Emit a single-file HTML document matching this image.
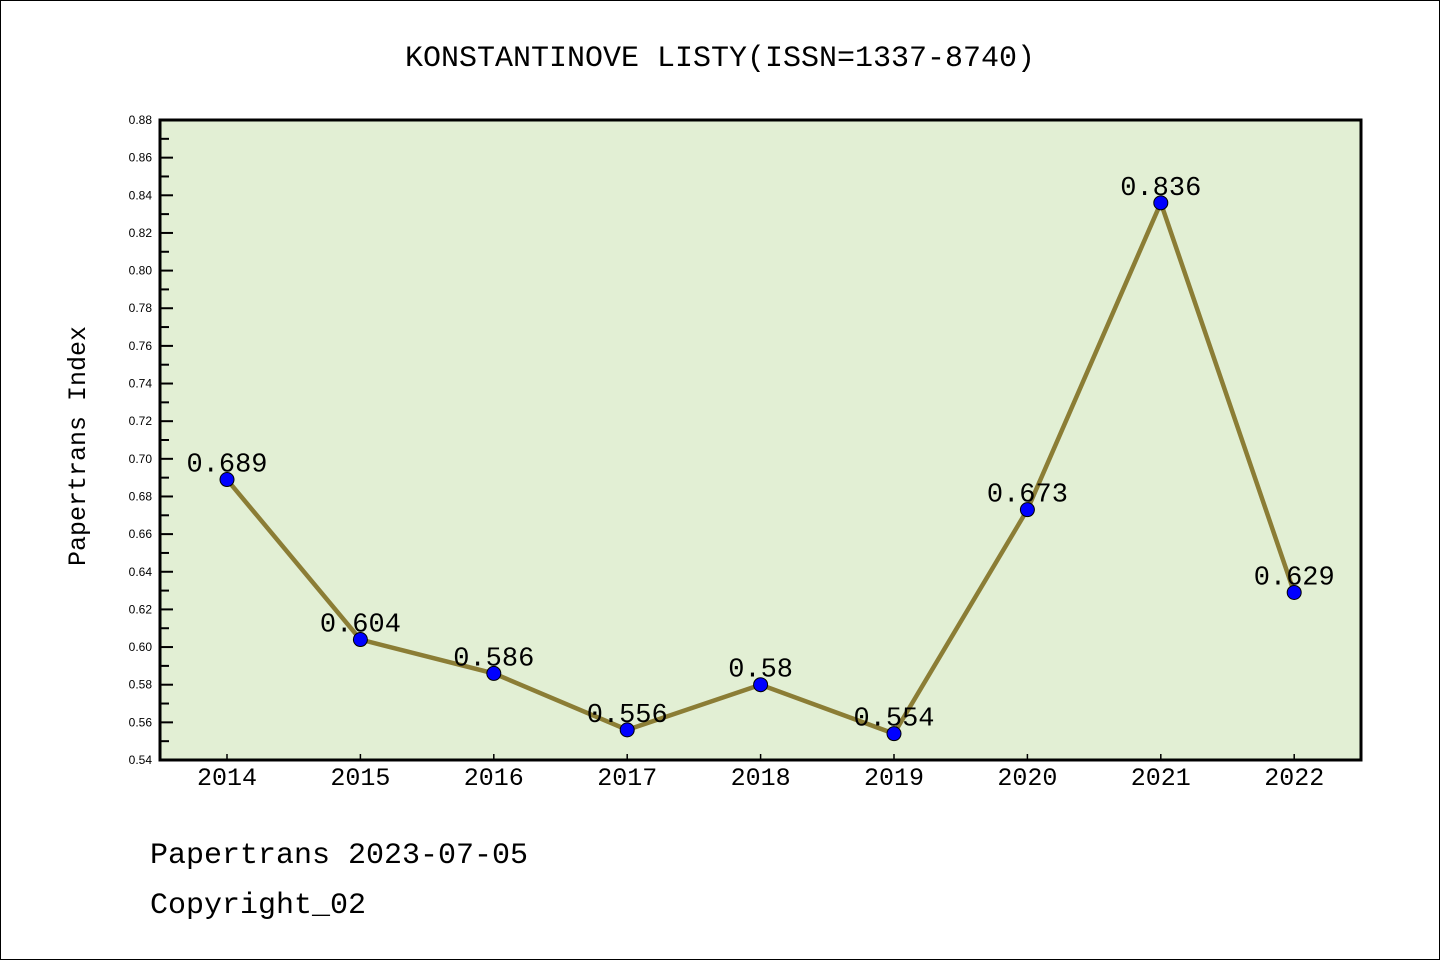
<!DOCTYPE html>
<html><head><meta charset="utf-8"><style>
html,body{margin:0;padding:0;background:#fff}
svg{display:block;font-family:"Liberation Mono","WenQuanYi Zen Hei",monospace}
</style></head><body>
<svg id="chart" width="1440" height="960" xmlns="http://www.w3.org/2000/svg">
<rect x="0.5" y="0.5" width="1439" height="959" fill="#fff" stroke="#000"/>
<text x="720" y="66" font-size="30" text-anchor="middle">KONSTANTINOVE LISTY(ISSN=1337-8740)</text>
<rect x="160" y="120" width="1201" height="640" fill="#e2efd4"/>
<g id="yaxis"></g>
<g id="xaxis"></g>
<g id="series"></g>
<rect x="160" y="120" width="1201" height="640" fill="none" stroke="#000" stroke-width="3"/>
<text transform="translate(85,446) rotate(-90)" font-size="25" text-anchor="middle">Papertrans Index</text>
<text x="150" y="863" font-size="30">Papertrans 2023-07-05</text>
<text x="150" y="913" font-size="30">Copyright_02</text>
</svg>
<script>
const years = ["2014","2015","2016","2017","2018","2019","2020","2021","2022"];
const values = [0.689,0.604,0.586,0.556,0.58,0.554,0.673,0.836,0.629];
const labels = ["0.689","0.604","0.586","0.556","0.58","0.554","0.673","0.836","0.629"];
const yTicks = ["0.54","0.56","0.58","0.60","0.62","0.64","0.66","0.68","0.70","0.72","0.74","0.76","0.78","0.80","0.82","0.84","0.86","0.88"];
(function(){
const NS="http://www.w3.org/2000/svg";
const yMin=0.54,yMax=0.88,pTop=120,pBot=760;
const y=v=>pBot-(v-yMin)/(yMax-yMin)*(pBot-pTop);
const x=i=>227+i*133.4;
function mk(t,a,p){const e=document.createElementNS(NS,t);for(const k in a)e.setAttribute(k,a[k]);p.appendChild(e);return e;}
const ya=document.getElementById('yaxis'),xa=document.getElementById('xaxis'),sg=document.getElementById('series');
yTicks.forEach((t,i)=>{
  const v=parseFloat(t),yy=y(v);
  const l=mk('line',{x1:160,x2:173,y1:yy,y2:yy,stroke:'#000','stroke-width':2},ya);
  
  
  const tx=mk('text',{x:152,y:yy+4,'font-size':12,'text-anchor':'end','font-family':'Liberation Sans, sans-serif'},ya);tx.textContent=t;
  
  
  if(i<yTicks.length-1){const ym=y(v+0.01);
    const m=mk('line',{x1:160,x2:169,y1:ym,y2:ym,stroke:'#000','stroke-width':2},ya);
    
    }
});
years.forEach((yr,i)=>{
  const l=mk('line',{x1:x(i),x2:x(i),y1:pBot,y2:pBot-6,stroke:'#000','stroke-width':1.5},xa);
  
  
  const t=mk('text',{x:x(i),y:785,'font-size':25,'text-anchor':'middle'},xa);t.textContent=yr;
  
  
});
const pl=mk('polyline',{points:values.map((v,i)=>x(i)+','+y(v)).join(' '),fill:'none',stroke:'#8b7d35','stroke-width':4.5},sg);


values.forEach((v,i)=>{
  const c=mk('circle',{cx:x(i),cy:y(v),r:7,fill:'#0000ff',stroke:'#000','stroke-width':1},sg);
  
  
  const t=mk('text',{x:x(i),y:y(v)-8,'font-size':27,'text-anchor':'middle'},sg);t.textContent=labels[i];
  
  
});
})();
</script>
</body></html>
